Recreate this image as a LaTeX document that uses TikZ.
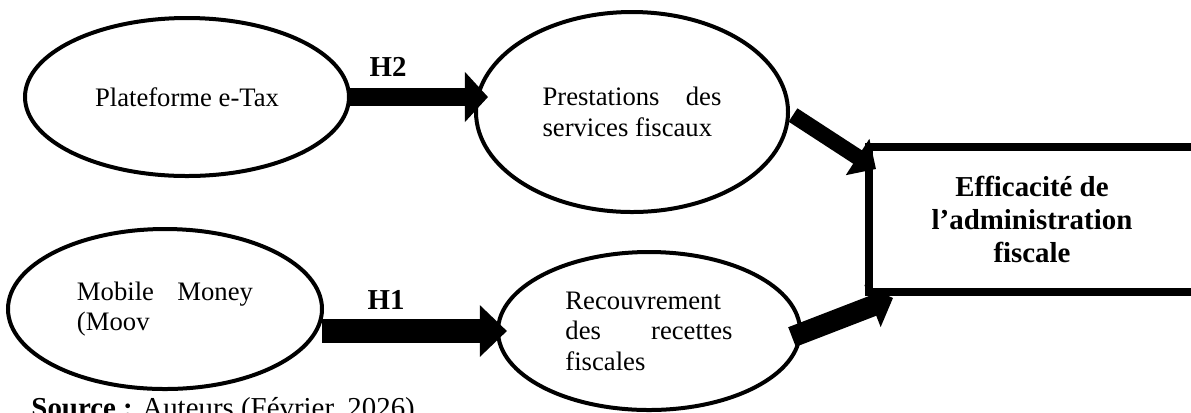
\documentclass[tikz,border=0pt]{standalone}
\usepackage{fontspec}
\setmainfont{Liberation Serif}
\usetikzlibrary{shapes.geometric,arrows.meta,calc}
\hyphenpenalty=10000
\tolerance=10000
\hbadness=10000
\begin{document}
\begin{tikzpicture}[x=0.45pt,y=-0.45pt,
  oval/.style={draw, ellipse, line width=1.8pt, inner sep=0pt, outer sep=0pt,
    font=\fontsize{12}{13.7}\selectfont},
  hyp/.style={font=\fontsize{13}{15}\selectfont\bfseries, inner sep=0pt},
  bigarrow/.style={draw=black, line cap=butt}]
\useasboundingbox (0,0) rectangle (1191,412);
\clip (0,0) rectangle (1191,412);

\node[oval, minimum width=145.8pt, minimum height=71.1pt] (e1) at (187,97) {Plateforme e-Tax};
\node[oval, minimum width=140.4pt, minimum height=90pt, text width=80.5pt, align=justify] (e2) at (632,112) {Prestations des\linebreak services fiscaux};
\node[oval, minimum width=141.3pt, minimum height=72pt, text width=79.2pt, align=justify] (e3) at (165,309) {Mobile Money\linebreak (Moov};
\node[oval, minimum width=135.9pt, minimum height=71.1pt, text width=75.2pt, align=justify] (e4) at (649,331) {Recouvrement\linebreak des recettes\linebreak fiscales};

\node[draw, line width=3.6pt, minimum width=146.7pt, minimum height=65.25pt, inner sep=0pt, outer sep=0pt,
  align=center, font=\fontsize{13}{15}\selectfont\bfseries] (box) at (1032,219.5) {Efficacité de\\ l’administration\\ fiscale};

\coordinate (t2) at ($(e2.west |- e1.east)+(12,0)$);
\coordinate (h1s) at (e3.east |- e4.west);
\coordinate (t1) at ($(e4.west)+(9,0)$);
\coordinate (d1s) at ($(e2.east)+(5,3)$);
\coordinate (d1t) at (876,169);
\coordinate (d2s) at ($(e4.east)+(-8,6)$);
\coordinate (d2t) at (893,298);

\draw[bigarrow, line width=8.1pt, -{Triangle[width=22pt,length=10.4pt]}] (e1.east) -- (t2);
\draw[bigarrow, line width=10.8pt, -{Triangle[width=22.5pt,length=12.2pt]}] (h1s) -- (t1);
\draw[bigarrow, line width=7.2pt, -{Triangle[width=18.9pt,length=9.9pt]}] (d1s) -- (d1t);
\draw[bigarrow, line width=9.45pt, -{Triangle[width=19.8pt,length=9.9pt]}] (d2s) -- (d2t);

\node[hyp] (lh2) at (388,67) {H2};
\node[hyp] (lh1) at (386,300) {H1};

\node[anchor=base west, inner sep=0pt, font=\fontsize{13}{15}\selectfont] (src) at (31,417) {\textbf{Source~:} Auteurs (Février, 2026)};
\end{tikzpicture}
\end{document}
